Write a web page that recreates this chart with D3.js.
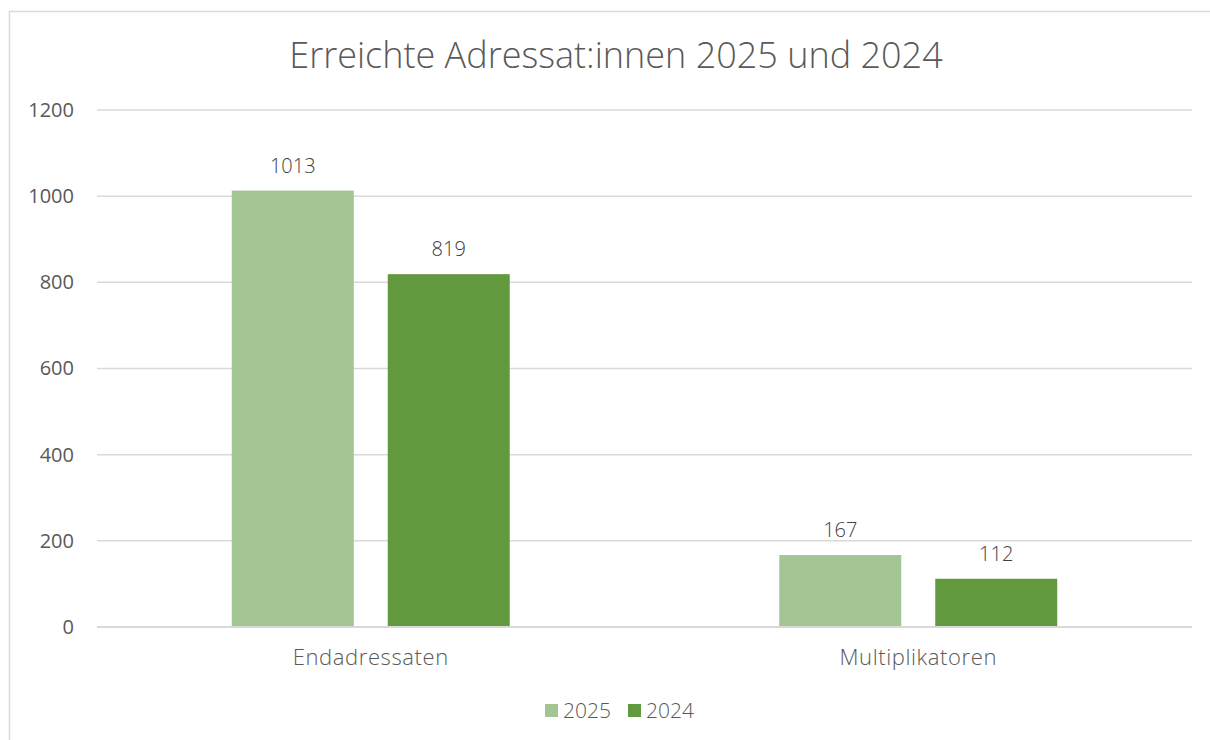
<!DOCTYPE html>
<html>
<head>
<meta charset="utf-8">
<title>Erreichte Adressat:innen</title>
<script src="https://cdn.jsdelivr.net/npm/d3@7"></script>
<style>
  body { margin: 0; background: #fff; }
  text { font-family: "Open Sans", sans-serif; fill: #595959; }
</style>
</head>
<body>
<script>
// data
var categories = ["Endadressaten", "Multiplikatoren"];
var years = ["2025", "2024"];
var values2025 = [1013, 167];
var values2024 = [819, 112];
var yTicks = [0, 200, 400, 600, 800, 1000, 1200];
var colors = ["#a3c593", "#62993e"];

var w = 1210, h = 740;
var plotLeft = 97, plotRight = 1192, plotTop = 110, plotBottom = 627;

var svg = d3.select("body").append("svg")
    .attr("width", w)
    .attr("height", h);

// chart frame
svg.append("rect")
    .attr("x", 9.5).attr("y", 11.5)
    .attr("width", 1220).attr("height", 760)
    .attr("fill", "none")
    .attr("stroke", "#d9d9d9")
    .attr("stroke-width", 1.5);

svg.append("text")
    .attr("x", 616).attr("y", 68)
    .attr("text-anchor", "middle")
    .style("font-size", "36px")
    .style("font-weight", 300)
    .text("Erreichte Adressat:innen 2025 und 2024");

var y = d3.scaleLinear().domain([0, 1200]).range([plotBottom, plotTop]);

var x0 = d3.scaleBand().domain(categories).range([plotLeft, plotRight]).padding(0);
var x1 = d3.scaleBand().domain(years).range([0, x0.bandwidth()])
    .paddingInner(0.218).paddingOuter(0.864);

// gridlines
svg.append("g").selectAll("line")
    .data(yTicks)
    .enter().append("line")
    .attr("x1", plotLeft).attr("x2", plotRight)
    .attr("y1", function(d){ return y(d); })
    .attr("y2", function(d){ return y(d); })
    .attr("stroke", "#d9d9d9")
    .attr("stroke-width", 1.5);

var yAxis = svg.append("g")
    .attr("transform", "translate(" + (plotLeft - 23) + ",0)")
    .call(d3.axisLeft(y).tickValues(yTicks).tickFormat(d3.format("d")).tickSize(0).tickPadding(0));
yAxis.select(".domain").remove();
yAxis.selectAll("text")
    .style("font-family", "'Open Sans', sans-serif")
    .style("font-size", "20px")
    .attr("fill", "#595959");

var series = years.map(function(yr, i){
    return { year: yr, color: colors[i], values: i == 0 ? values2025 : values2024 };
});

var groups = svg.append("g").selectAll("g")
    .data(series)
    .enter().append("g");

groups.selectAll("rect")
    .data(function(d){ return d.values.map(function(v, j){ return { year: d.year, cat: categories[j], v: v, color: d.color }; }); })
    .enter().append("rect")
    .attr("x", function(d){ return x0(d.cat) + x1(d.year); })
    .attr("width", x1.bandwidth())
    .attr("y", function(d){ return y(d.v); })
    .attr("height", function(d){ return y(0) - y(d.v); })
    .attr("fill", function(d){ return d.color; });

groups.selectAll("text")
    .data(function(d){ return d.values.map(function(v, j){ return { year: d.year, cat: categories[j], v: v }; }); })
    .enter().append("text")
    .attr("x", function(d){ return x0(d.cat) + x1(d.year) + x1.bandwidth() / 2; })
    .attr("y", function(d){ return y(d.v) - 18; })
    .attr("text-anchor", "middle")
    .style("font-size", "20px")
    .style("font-weight", 300)
    .style("fill", "#404040")
    .text(function(d){ return d.v; });

// baseline
svg.append("line")
    .attr("x1", plotLeft).attr("x2", plotRight)
    .attr("y1", y(0)).attr("y2", y(0))
    .attr("stroke", "#d9d9d9")
    .attr("stroke-width", 2);

// category labels
svg.append("g").selectAll("text")
    .data(categories)
    .enter().append("text")
    .attr("x", function(d){ return x0(d) + x0.bandwidth() / 2; })
    .attr("y", 665)
    .attr("text-anchor", "middle")
    .style("font-size", "22px")
    .style("font-weight", 300)
    .style("letter-spacing", "0.6px")
    .text(function(d){ return d; });

// legend
var legend = svg.append("g").selectAll("g")
    .data(series)
    .enter().append("g")
    .attr("transform", function(d, i){ return "translate(" + (545 + i * 83) + ",704)"; });
legend.append("rect")
    .attr("width", 13).attr("height", 13)
    .attr("fill", function(d){ return d.color; });
legend.append("text")
    .attr("x", 18).attr("y", 14)
    .style("font-size", "21px")
    .style("font-weight", 300)
    .text(function(d){ return d.year; });
</script>
</body>
</html>
